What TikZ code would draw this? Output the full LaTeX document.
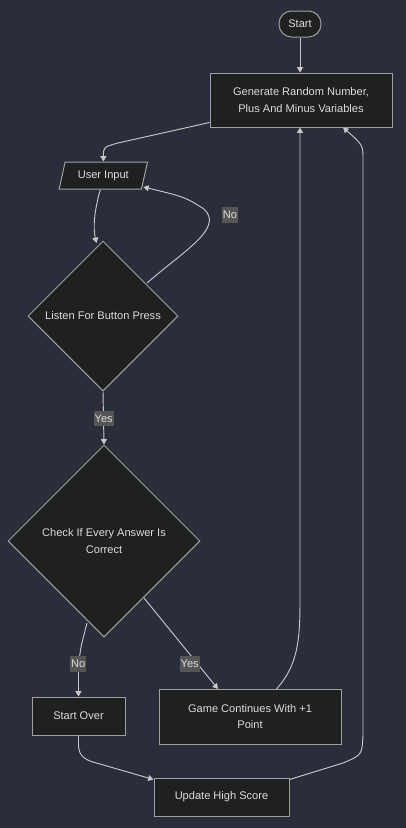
\documentclass[tikz,border=0pt]{standalone}
\usepackage{fontspec}
\setmainfont{Liberation Sans}
\usetikzlibrary{shapes.geometric,arrows.meta,calc}
\definecolor{bgc}{RGB}{42,46,58}
\definecolor{nodefill}{RGB}{31,32,32}
\definecolor{nodeline}{RGB}{160,160,160}
\definecolor{edgec}{RGB}{200,200,200}
\definecolor{txtc}{RGB}{220,220,220}
\definecolor{lblbg}{RGB}{85,85,85}
\tikzset{
  base/.style={draw=nodeline, fill=nodefill, line width=0.75pt, text=txtc, font=\fontsize{8.3pt}{12.5pt}\selectfont, align=center, inner sep=0pt},
  boxnode/.style={base, rectangle},
  pillnode/.style={base, rectangle, rounded corners=9.5pt},
  dianode/.style={base, diamond, aspect=1},
  ionode/.style={base, trapezium, trapezium left angle=68, trapezium right angle=112, trapezium stretches=true},
  arr/.style={draw=edgec, line width=0.7pt, -{Triangle[length=4pt,width=4.5pt]}},
  lbl/.style={fill=lblbg, text=txtc, font=\fontsize{8.3pt}{10pt}\selectfont, inner xsep=0.6pt, inner ysep=0pt, minimum height=11.5pt}
}
\begin{document}
\begin{tikzpicture}[x=0.75pt,y=-0.75pt]
\fill[bgc] (0,0) rectangle (406,828);
\useasboundingbox (0,0) rectangle (406,828);

\node[pillnode, minimum width=31.5pt, minimum height=19.5pt] (start) at (300,24) {Start};
\node[boxnode, minimum width=136.5pt, minimum height=40.5pt] (gen) at (301,100) {Generate Random Number,\\ Plus And Minus Variables};
\node[ionode, minimum width=66.5pt, minimum height=20.25pt] (input) at (103.3,175.5) {User Input};
\node[dianode, minimum width=112.5pt, minimum height=112.5pt] (d1) at (103,316) {Listen For Button Press};
\node[dianode, minimum width=144pt, minimum height=144pt] (d2) at (104,541) {Check If Every Answer Is\\ Correct};
\node[boxnode, minimum width=69.75pt, minimum height=28.5pt] (over) at (78.5,716) {Start Over};
\node[boxnode, minimum width=136.5pt, minimum height=41.25pt] (game) at (250,716.5) {Game Continues With +1\\ Point};
\node[boxnode, minimum width=101.25pt, minimum height=28.5pt] (upd) at (221.5,797) {Update High Score};

\coordinate (loopend) at ($(input.bottom right corner)+(1.5,-2.5)$);

% edges
\draw[arr] (start.south) -- (start.south |- gen.north);
\draw[arr] ($(gen.south west)+(0,-5)$) -- (118,143) .. controls (103.5,147) .. (input.north);
\draw[arr] ($(input.south)+(-3,0)$) .. controls (94,212) and (93,228) .. (96.5,243);
\draw[arr] (147,283) .. controls (185,250) and (224,228) .. (204,209) .. controls (185,197) .. (loopend);
\draw[arr] (d1.south) -- (d2.north);
\draw[arr] (87,623) .. controls (80,650) .. (78.5,670) -- (over.north);
\draw[arr] (144,598) -- (218,689);
\draw[arr] (276.5,689) .. controls (298,665) and (300,640) .. (300,600) -- (gen.south -| 300,0);
\draw[arr] (over.south) -- (78.5,745) .. controls (78.5,758) and (88,761) .. (100,764) -- (153.5,779.5);
\draw[arr] ($(upd.north east)+(0,2)$) -- (343,763) .. controls (362,755) .. (363,735) -- (363,160) .. controls (363,145) .. (343,127.5);

% labels
\node[lbl] (lno1) at (230,215) {No};
\node[lbl] (lyes1) at (103.7,418.3) {Yes};
\node[lbl] (lno2) at (78.3,664) {No};
\node[lbl] (lyes2) at (189.7,664) {Yes};
\end{tikzpicture}
\end{document}
